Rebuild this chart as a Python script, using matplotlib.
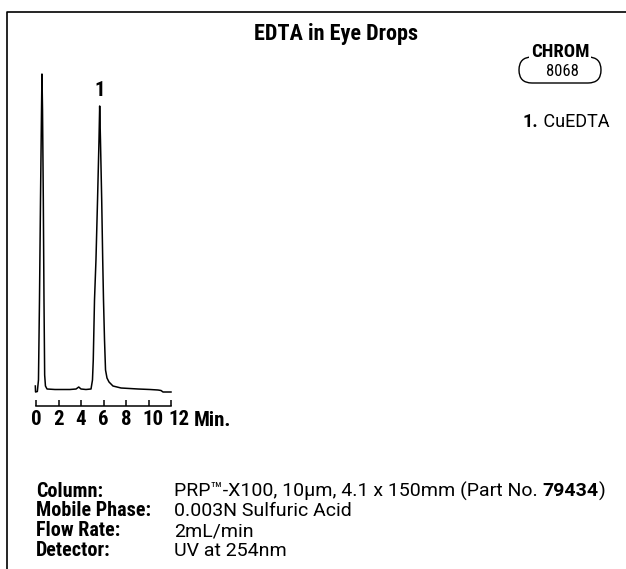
import matplotlib
matplotlib.use('Agg')
import matplotlib.pyplot as plt
from matplotlib import font_manager
from matplotlib.patches import FancyBboxPatch
from matplotlib.transforms import ScaledTranslation

# fuente condensada tipo Helvetica Condensed, si existe
disponibles = {f.name for f in font_manager.fontManager.ttflist}
fuente = 'Liberation Sans'
for cand in ['Roboto Condensed', 'Nimbus Sans Narrow', 'Archivo Narrow',
             'PT Sans Narrow', 'Liberation Sans Narrow', 'Arial Narrow']:
    if cand in disponibles:
        fuente = cand
        break
# fuente para los textos de condiciones (algo mas ancha)
cuerpo = ['Roboto', 'Liberation Sans', 'DejaVu Sans']
plt.rcParams['font.family'] = [fuente, 'DejaVu Sans']

tiempo = [-0.06, -0.04, 0.12, 0.22, 0.31, 0.40, 0.49, 0.53, 0.58, 0.65, 0.71, 0.77,
          0.84, 0.98, 1.69, 3.02, 3.56, 3.80, 4.00, 4.44, 4.89, 5.02, 5.09, 5.20,
          5.33, 5.47, 5.60, 5.66, 5.73, 5.84, 5.93, 6.00, 6.09, 6.18, 6.31, 6.49,
          6.84, 7.56, 9.07, 10.13, 10.84, 11.11, 11.29, 12.00]
respuesta = [3, -3, -2.5, 9, 89, 189, 279, 315, 279, 189, 89, 14,
             3, 0, -0.5, -0.5, 0, 2, 0, -0.5, 0, 9, 29, 89,
             129, 189, 249, 283, 249, 189, 129, 89, 49, 19, 11, 7,
             3, 1, 0, -0.5, -1, -1.5, -3, -3]

ticks = [0, 2, 4, 6, 8, 10, 12]
pico_tiempo = 5.66
pico_altura = 283
pico_etiqueta = '1'
compuestos = ['CuEDTA']

condiciones = ['Column:', 'Mobile Phase:', 'Flow Rate:', 'Detector:']
valores = [None, '0.003N Sulfuric Acid', '2mL/min', 'UV at 254nm']

W, H = 626, 569
fig = plt.figure(figsize=(W / 100, H / 100), dpi=100)

# capa en pixeles para textos y marco
lienzo = fig.add_axes([0, 0, 1, 1], frameon=False)
lienzo.set_xlim(0, W)
lienzo.set_ylim(H, 0)
lienzo.set_axis_off()

# eje del cromatograma
x0, x1 = 36, 171
ybot, ytop = 406, 69
ax = fig.add_axes([x0 / W, 1 - ybot / H, (x1 - x0) / W, (ybot - ytop) / H])
ax.plot(tiempo, respuesta, color='black', lw=1.1, clip_on=False)
ax.set_xlim(0, 12)
ax.set_ylim(-17, 320)
for s in ['top', 'right', 'left']:
    ax.spines[s].set_visible(False)
ax.spines['bottom'].set_linewidth(1.1)
ax.set_yticks([])
ax.set_xticks(ticks)
ax.set_xticklabels([str(t) for t in ticks], fontsize=15, fontweight='bold')
ax.tick_params(axis='x', direction='in', length=4, width=1.1, pad=3)
# las etiquetas de dos cifras van corridas a la derecha en el original
for lab, dx in zip(ax.get_xticklabels()[-2:], [4, 8]):
    lab.set_transform(lab.get_transform() + ScaledTranslation(dx / 100, 0, fig.dpi_scale_trans))
ax.text(pico_tiempo, pico_altura + 10, pico_etiqueta, ha='center', va='baseline',
        fontsize=15, fontweight='bold')
lienzo.text(194, 420, 'Min.', ha='left', va='center', fontsize=15, fontweight='bold')

# titulo
lienzo.text(336, 34, 'EDTA in Eye Drops', ha='center', va='center',
            fontsize=16, fontweight='bold')

# marco (solo izquierda y arriba quedan dentro de la imagen)
lienzo.plot([7, 7, W + 5], [H + 5, 12, 12], color='black', lw=1.2, clip_on=False)

# insignia CHROM
caja = FancyBboxPatch((519, 57), 82, 26, boxstyle='round,pad=0,rounding_size=13',
                      fill=False, ec='black', lw=1.0)
lienzo.add_patch(caja)
lienzo.text(560, 52, 'CHROM', ha='center', va='center', fontsize=13.5,
            fontweight='bold', bbox=dict(fc='white', ec='none', pad=1))
lienzo.text(562, 71, '8068', ha='center', va='center', fontsize=12)

# identificacion de picos
t1 = lienzo.text(523, 122, '1.', ha='left', va='center', fontsize=13, fontweight='bold',
                 family=cuerpo)
lienzo.annotate(' ' + compuestos[0], xy=(1, 0.5), xycoords=t1, ha='left', va='center',
                fontsize=13, family=cuerpo)

# condiciones cromatograficas
ys = [491, 511, 531, 551]
for lab, y, val in zip(condiciones, ys, valores):
    lienzo.text(36, y, lab, ha='left', va='center', fontsize=14.5, fontweight='bold')
    if val is not None:
        lienzo.text(174, y, val, ha='left', va='center', fontsize=14, family=cuerpo)

partes = [('PRP\u2122-X100, 10\u00b5m, 4.1 x 150mm (Part No. ', 'normal'),
          ('79434', 'bold'), (')', 'normal')]
prev = lienzo.text(174, ys[0], partes[0][0], ha='left', va='center',
                   fontsize=14, fontweight=partes[0][1], family=cuerpo)
for txt, w in partes[1:]:
    prev = lienzo.annotate(txt, xy=(1, 0.5), xycoords=prev, ha='left', va='center',
                           fontsize=14, fontweight=w, family=cuerpo)

fig.savefig('out.png', dpi=100)
